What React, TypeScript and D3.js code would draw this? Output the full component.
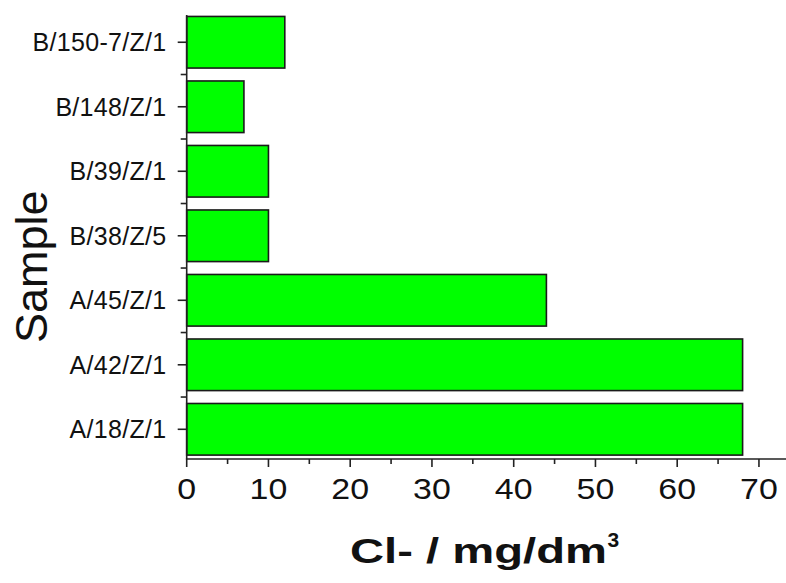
import React from "react";
import * as d3 from "d3";

const categories = ["A/18/Z/1", "A/42/Z/1", "A/45/Z/1", "B/38/Z/5", "B/39/Z/1", "B/148/Z/1", "B/150-7/Z/1"];
const values = [68, 68, 44, 10, 10, 7, 12];
const xMajorTicks = [0, 10, 20, 30, 40, 50, 60, 70];
const xMinorTicks = [5, 15, 25, 35, 45, 55, 65];
const yTitle = "Sample";
const xTitleMain = "Cl- / mg/dm";
const xTitleSup = "3";

export default function App() {
  const W = 786, H = 583;
  const x0 = 186.7, xEnd = 786;
  const yTop = 15, yBot = 459;
  const x = d3.scaleLinear().domain([0, (xEnd - x0) / 8.175]).range([x0, xEnd]);
  const y = d3.scaleLinear().domain([0.5395, 7.4225]).range([yBot, yTop]);
  const barH = y(0) - y(0.8);
  const font = "Arial, 'Liberation Sans', sans-serif";
  const axisColor = "#222";
  const yMinor = d3.range(1.5, categories.length, 1);
  const tickFs = 30;
  const tickStretch = 1.13;

  return (
    <svg width={W} height={H} style={{ position: "absolute", left: 0, top: 0 }} fontFamily={font}>
      <rect width={W} height={H} fill="#fff" />
      {categories.map((c, i) => (
        <rect key={c} x={x(0)} y={y(i + 1) - barH / 2} width={x(values[i]) - x(0)} height={barH}
          fill="#00ff00" stroke="#1a1a1a" strokeWidth={1.6} />
      ))}
      {/* y axis */}
      <line x1={x0} x2={x0} y1={yTop} y2={yBot} stroke={axisColor} strokeWidth={1.6} />
      {categories.map((c, i) => (
        <g key={"yt" + c}>
          <line x1={x0 - 9} x2={x0} y1={y(i + 1)} y2={y(i + 1)} stroke={axisColor} strokeWidth={1.6} />
          <text x={166.5} y={y(i + 1) + 9.2} textAnchor="end" fontSize={25} letterSpacing={0.3} fill="#111">{c}</text>
        </g>
      ))}
      {yMinor.map((v) => (
        <line key={"ym" + v} x1={x0 - 6} x2={x0} y1={y(v)} y2={y(v)} stroke={axisColor} strokeWidth={1.6} />
      ))}
      {/* x axis */}
      <line x1={x0 - 0.8} x2={xEnd} y1={yBot} y2={yBot} stroke={axisColor} strokeWidth={1.6} />
      {xMajorTicks.map((t) => (
        <g key={"xt" + t}>
          <line x1={x(t)} x2={x(t)} y1={yBot} y2={yBot + 8} stroke={axisColor} strokeWidth={1.6} />
          <text x={x(t)} y={499.3} textAnchor="middle" fontSize={tickFs} fill="#111"
            textLength={String(t).length * 0.556 * tickFs * tickStretch} lengthAdjust="spacingAndGlyphs">{t}</text>
        </g>
      ))}
      {xMinorTicks.map((t) => (
        <line key={"xm" + t} x1={x(t)} x2={x(t)} y1={yBot} y2={yBot + 5} stroke={axisColor} strokeWidth={1.6} />
      ))}
      {/* titles */}
      <text transform={`translate(47,266.7) rotate(-90)`} textAnchor="middle" fontSize={45} fill="#111">{yTitle}</text>
      <text x={350} y={562.7} fontSize={35} fontWeight="bold" fill="#111" textLength={257} lengthAdjust="spacingAndGlyphs">
        {xTitleMain}
      </text>
      <text x={607.5} y={546.7} fontSize={21} fontWeight="bold" fill="#111">{xTitleSup}</text>
    </svg>
  );
}
